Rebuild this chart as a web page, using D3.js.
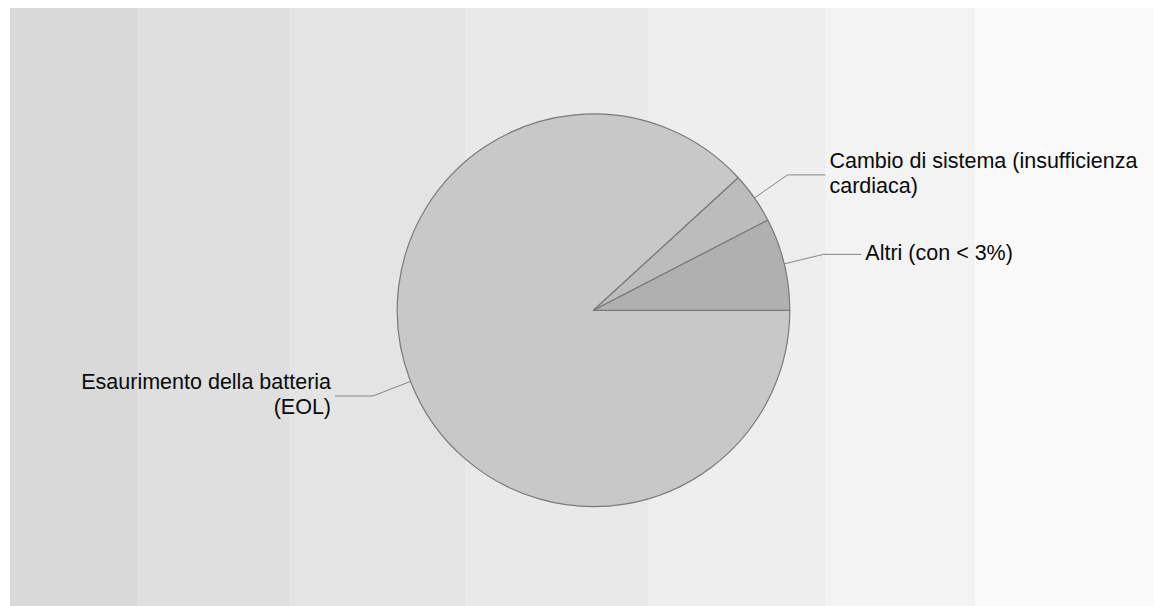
<!DOCTYPE html>
<html>
<head>
<meta charset="utf-8">
<script src="https://cdn.jsdelivr.net/npm/d3@7"></script>
<style>
  html, body { margin: 0; padding: 0; background: #ffffff; }
  svg { display: block; }
</style>
</head>
<body>
<svg id="chart" width="1154" height="606"></svg>
<script>
// ---- data ----
const categories = [
  "Esaurimento della batteria\n(EOL)",
  "Cambio di sistema (insufficienza\ncardiaca)",
  "Altri (con < 3%)"
];
const values = [88.2, 4.2, 7.6];

// ---- styles ----
const sliceColors = ["#c8c8c8", "#bcbcbc", "#b0b0b0"];
const bandEdges = [10, 137, 289, 465, 648, 825, 975, 1154];
const bandColors = ["#d9d9d9", "#dfdfdf", "#e4e4e4", "#e9e9e9", "#eeeeee", "#f3f3f3", "#f9f9f9"];

const svg = d3.select("#chart");

// background bands
svg.append("g").selectAll("rect")
  .data(bandColors)
  .join("rect")
  .attr("x", (d, i) => bandEdges[i])
  .attr("y", 8)
  .attr("width", (d, i) => bandEdges[i + 1] - bandEdges[i])
  .attr("height", 606 - 8)
  .attr("fill", d => d);

const cx = 593.5, cy = 310.3, r = 196.3;
const g = svg.append("g").attr("transform", `translate(${cx},${cy})`);

const data = categories.map((c, i) => ({ label: c, value: values[i], color: sliceColors[i] }));

const pie = d3.pie()
  .sort(null)
  .value(d => d.value)
  .startAngle(Math.PI / 2)
  .endAngle(Math.PI / 2 + 2 * Math.PI);

const arcs = pie(data);
const arc = d3.arc().innerRadius(0).outerRadius(r);

g.selectAll("path.slice")
  .data(arcs)
  .join("path")
  .attr("class", "slice")
  .attr("d", arc)
  .attr("fill", d => d.data.color)
  .attr("stroke", "#7a7a7a")
  .attr("stroke-width", 1.2)
  .attr("stroke-linejoin", "round");

// labels with leader lines
const elbowR = r * 1.205;
const hLen = 38;
const gap = 4;
const fontSize = 21.5;
const lineH = 25;

arcs.forEach(a => {
  const mid = (a.startAngle + a.endAngle) / 2;
  const sx = Math.sin(mid), sy = -Math.cos(mid);
  const p0 = [sx * r, sy * r];
  const p1 = [sx * elbowR, sy * elbowR];
  const right = sx >= 0;
  const p2 = [p1[0] + (right ? hLen : -hLen), p1[1]];

  g.append("polyline")
    .attr("points", [p0, p1, p2].map(p => p.join(",")).join(" "))
    .attr("fill", "none")
    .attr("stroke", "#858585")
    .attr("stroke-width", 1);

  const lines = a.data.label.split("\n");
  const n = lines.length;
  const firstBase = p1[1] - 2 + fontSize * 0.36 - (n - 1) * lineH / 2;
  const t = g.append("text")
    .attr("x", p2[0] + (right ? gap : -gap))
    .attr("y", firstBase)
    .attr("text-anchor", right ? "start" : "end")
    .attr("font-family", "'Liberation Sans', Arial, sans-serif")
    .attr("font-size", fontSize)
    .attr("fill", "#0a0a0a");
  lines.forEach((ln, i) => {
    t.append("tspan")
      .attr("x", p2[0] + (right ? gap : -gap))
      .attr("y", firstBase + i * lineH)
      .text(ln);
  });
});
</script>
</body>
</html>
